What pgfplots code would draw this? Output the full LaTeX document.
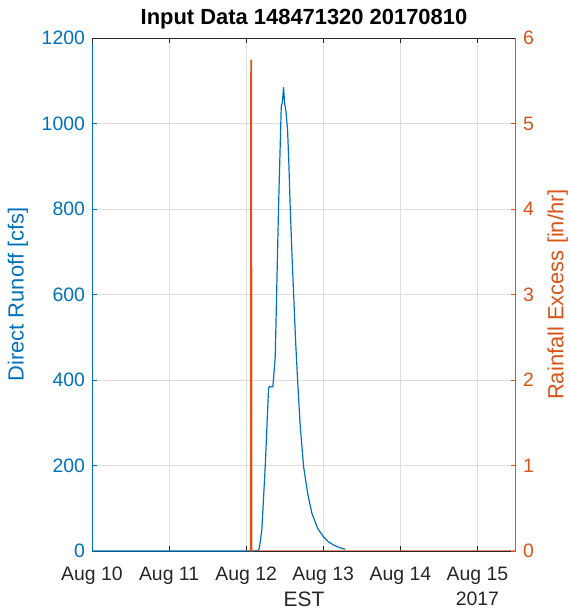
\documentclass[border=0pt]{standalone}
\usepackage{pgfplots}
\pgfplotsset{compat=1.18}
\usepackage{fontspec}
\setmainfont{Liberation Sans}
\definecolor{mblue}{RGB}{0,114,189}
\definecolor{morange}{RGB}{217,83,25}
\definecolor{mgray}{RGB}{38,38,38}
\definecolor{mgrid}{RGB}{222,222,222}
\begin{document}
\begin{tikzpicture}
\path[use as bounding box] (-46bp,-32bp) rectangle (239bp,275.5bp);
\begin{axis}[
  at={(0,0)}, anchor=south west,
  width=212bp, height=256.5bp, scale only axis,
  xmin=0, xmax=5.5, ymin=0, ymax=1200,
  axis x line*=bottom, axis y line*=left,
  x axis line style={-, draw=mgray, line width=0.5bp},
  y axis line style={-, draw=mblue, line width=0.5bp},
  xtick={0,1,2,3,4,5},
  xticklabels={Aug 10, Aug 11, Aug 12, Aug 13, Aug 14, Aug 15},
  ytick={0,200,400,600,800,1000,1200},
  tick align=inside, major tick length=2.6bp,
  xtick style={draw=mgray, line width=0.4bp},
  ytick style={draw=mblue, line width=0.4bp},
  grid=major, major grid style={draw=mgrid, line width=0.4bp},
  /pgf/number format/assume math mode=true,
  /pgf/number format/1000 sep={},
  ticklabel style={font=\fontsize{9.75}{11}\selectfont},
  xticklabel style={text=mgray, yshift=-4.5bp},
  yticklabel style={text=mblue},
  xlabel={EST},
  xlabel style={font=\fontsize{10.5}{12}\selectfont, text=mgray, yshift=3bp},
  ylabel={Direct Runoff [cfs]},
  ylabel style={font=\fontsize{11}{13}\selectfont, text=mblue},
  title={\textbf{Input Data 148471320 20170810}},
  title style={font=\fontsize{11}{13}\selectfont, text=black, yshift=-5bp},
  clip=false,
]
\addplot[mblue, line width=0.6bp] coordinates {
(0,0) (2.10,0) (2.13,1) (2.15,0) (2.17,6) (2.203,49) (2.247,197) (2.29,380)
(2.30,384) (2.346,384) (2.377,454) (2.42,805) (2.455,1040) (2.47,1050)
(2.485,1085) (2.50,1045) (2.515,1030) (2.537,985) (2.555,900) (2.571,805)
(2.595,690) (2.615,603) (2.64,495) (2.667,400) (2.70,295) (2.745,197)
(2.80,132) (2.853,88) (2.93,52) (3.004,33) (3.07,21) (3.134,14) (3.21,8) (3.286,4)
};
\node[text=mgray, font=\fontsize{9.75}{11}\selectfont] at (axis cs:5,0) [yshift=-24bp] {2017};
\end{axis}
\begin{axis}[
  at={(0,0)}, anchor=south west,
  width=212bp, height=256.5bp, scale only axis,
  xmin=0, xmax=5.5, ymin=0, ymax=6,
  axis x line*=top, axis y line*=right,
  x axis line style={-, draw=mgray, line width=0.5bp},
  y axis line style={-, draw=morange, line width=0.5bp},
  xtick={0,1,2,3,4,5}, xticklabels={},
  ytick={0,1,2,3,4,5,6},
  tick align=inside, major tick length=2.6bp,
  xtick style={draw=mgray, line width=0.4bp},
  ytick style={draw=morange, line width=0.4bp},
  /pgf/number format/assume math mode=true,
  ticklabel style={font=\fontsize{9.75}{11}\selectfont},
  yticklabel style={text=morange},
  ylabel={Rainfall Excess [in/hr]},
  ylabel style={font=\fontsize{11}{13}\selectfont, text=morange},
]
\addplot[morange, line width=0.7bp] coordinates {
(2.0,0) (2.058,0) (2.062,5.74) (2.068,5.74) (2.072,0) (5.5,0)
};
\end{axis}
\end{tikzpicture}
\end{document}
